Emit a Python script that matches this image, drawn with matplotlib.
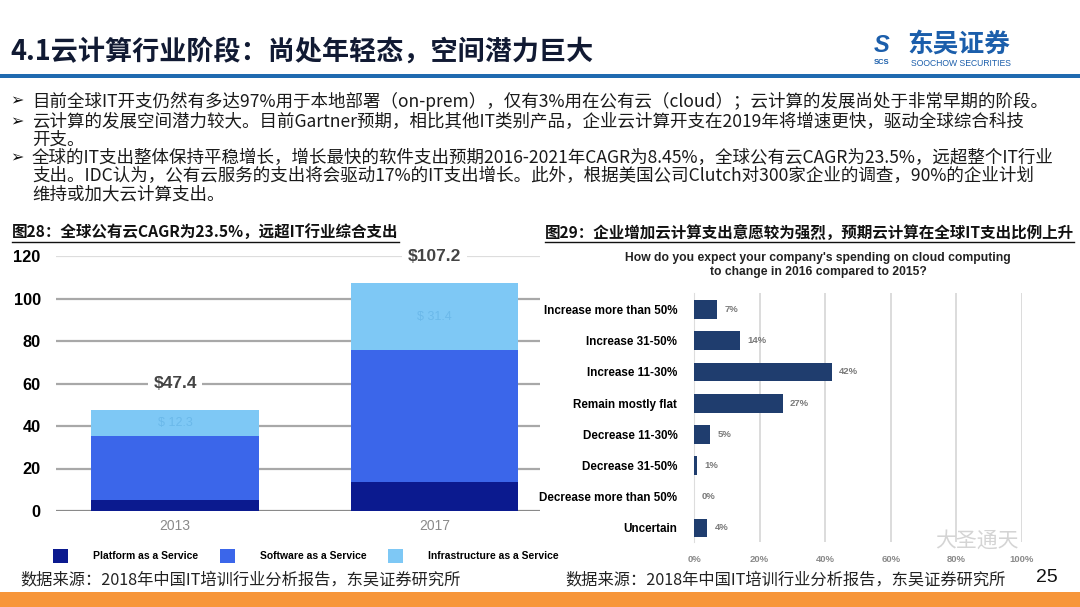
import matplotlib
matplotlib.use("Agg")
import matplotlib.pyplot as plt
from matplotlib.patches import Rectangle
from matplotlib.lines import Line2D

plt.rcParams['font.family'] = ['Noto Sans CJK SC', 'DejaVu Sans']

# ---- data ----
years = ["2013", "2017"]
paas = [5.3, 13.8]
saas = [29.8, 62.0]
iaas = [12.3, 31.4]
totals = ["$47.4", "$107.2"]
iaas_labels = ["$ 12.3", "$ 31.4"]

answers = ["Increase more than 50%", "Increase 31-50%", "Increase 11-30%",
           "Remain mostly flat", "Decrease 11-30%", "Decrease 31-50%",
           "Decrease more than 50%", "Uncertain"]
shares = [7, 14, 42, 27, 5, 1, 0, 4]

W, H = 1080, 607
fig = plt.figure(figsize=(10.8, 6.07), dpi=100)


def fx(x):
    return x / W


def fy(y):
    return 1 - y / H


EN = ['Liberation Sans', 'DejaVu Sans']
CJK = ['Noto Sans CJK SC', 'DejaVu Sans']

# ---- header ----
fig.text(fx(10), fy(52), "4.1云计算行业阶段：尚处年轻态，空间潜力巨大", fontsize=19.5,
         fontweight='bold', color='#111a33', va='center', family=CJK)
fig.add_artist(Rectangle((0, fy(78)), 1, 3.5 / H, transform=fig.transFigure,
                         color='#1f6ab0', lw=0))
fig.text(fx(874), fy(45), "S", fontsize=17, fontweight='bold', fontstyle='italic',
         color='#1b5eab', va='center', family=EN)
fig.text(fx(874), fy(62), "SCS", fontsize=5.5, fontweight='bold',
         color='#1b5eab', va='center', family=EN)
fig.text(fx(907), fy(44), "东吴证券", fontsize=18.5, fontweight='bold',
         color='#1b5eab', va='center', family=CJK)
fig.text(fx(911), fy(63), "SOOCHOW SECURITIES", fontsize=6.2,
         color='#1b5eab', va='center', family=EN)

# ---- bullets ----
bullets = [
    (101, True, "目前全球IT开支仍然有多达97%用于本地部署（on-prem），仅有3%用在公有云（cloud）；云计算的发展尚处于非常早期的阶段。"),
    (122, True, "云计算的发展空间潜力较大。目前Gartner预期，相比其他IT类别产品，企业云计算开支在2019年将增速更快，驱动全球综合科技"),
    (140, False, "开支。"),
    (158, True, "全球的IT支出整体保持平稳增长，增长最快的软件支出预期2016-2021年CAGR为8.45%，全球公有云CAGR为23.5%，远超整个IT行业"),
    (176, False, "支出。IDC认为，公有云服务的支出将会驱动17%的IT支出增长。此外，根据美国公司Clutch对300家企业的调查，90%的企业计划"),
    (194, False, "维持或加大云计算支出。"),
]
for y, mark, line in bullets:
    if mark:
        fig.text(fx(10), fy(y), "➢", fontsize=11.5, va='center', color='#111111',
                 family=['DejaVu Sans'])
    fig.text(fx(32), fy(y), line, fontsize=12.6, va='center', color='#1a1a1a', family=CJK)

# ---- captions (underlined) ----
captions = [(12, "图28：全球公有云CAGR为23.5%，远超IT行业综合支出"),
            (545, "图29：企业增加云计算支出意愿较为强烈，预期云计算在全球IT支出比例上升")]
cap_texts = []
for x, c in captions:
    t = fig.text(fx(x), fy(233), c, fontsize=11.2, fontweight='bold', va='center',
                 color='#111111', family=CJK)
    cap_texts.append(t)

# ---- left chart: stacked bars ----
ax1 = fig.add_axes([fx(56), fy(511), fx(540 - 56), (511 - 256) / H])
xpos = [0, 1]
c_paas, c_saas, c_iaas = '#0b1a8f', '#3b66ea', '#7ec8f5'
b1 = ax1.bar(xpos, paas, width=0.647, color=c_paas, label='Platform as a Service', zorder=3)
b2 = ax1.bar(xpos, saas, width=0.647, bottom=paas, color=c_saas,
             label='Software as a Service', zorder=3)
bottom3 = [p + s for p, s in zip(paas, saas)]
b3 = ax1.bar(xpos, iaas, width=0.647, bottom=bottom3, color=c_iaas,
             label='Infrastructure as a Service', zorder=3)
for i in xpos:
    ax1.text(i, bottom3[i] + iaas[i] / 2, iaas_labels[i], ha='center', va='center',
             fontsize=9, color='#6bb9ea', family=EN, zorder=4)
ax1.text(0, 60, totals[0], ha='center', va='center', fontsize=12.5, fontweight='bold',
         color='#444444', family=EN, zorder=4,
         bbox=dict(facecolor='white', edgecolor='none', pad=4))
ax1.text(1, 120, totals[1], ha='center', va='center', fontsize=12.5, fontweight='bold',
         color='#444444', family=EN, zorder=4,
         bbox=dict(facecolor='white', edgecolor='none', pad=4))
ax1.set_xlim(-0.4587, 1.4067)
ax1.set_ylim(0, 120)
ax1.set_yticks(range(0, 121, 20))
ax1.set_xticks(xpos, years)
ax1.yaxis.grid(True, color='#a8a8a8', lw=1.6, zorder=0)
grid = ax1.yaxis.get_gridlines()
grid[-1].set_color('#dddddd')
grid[0].set_color('#8a8a8a')
ax1.tick_params(axis='y', length=0, pad=11, labelsize=11.8)
ax1.tick_params(axis='x', length=0, pad=6, labelsize=10, labelcolor='#8a8a8a')
for lab in ax1.get_yticklabels():
    lab.set_fontweight('bold')
    lab.set_family(EN)
for lab in ax1.get_xticklabels():
    lab.set_family(EN)
for s in ax1.spines.values():
    s.set_visible(False)
ax1.set_facecolor('none')

fig.legend(handles=[b1, b2, b3], loc='center left', bbox_to_anchor=(fx(44), fy(556)),
           ncol=3, frameon=False, handlelength=1.4, handleheight=1.6,
           columnspacing=2.1, handletextpad=2.4, prop={'family': EN, 'weight': 'bold', 'size': 7.5})

# ---- right chart: horizontal bars ----
ax2 = fig.add_axes([fx(694), fy(542), fx(1022 - 694), (542 - 293) / H])
ypos = list(range(len(answers)))
ax2.barh(ypos, shares, height=0.6, color='#1f3d6e', zorder=3)
for y, v in zip(ypos, shares):
    ax2.text(v + 2.3, y, f"{v}%", va='center', ha='left', fontsize=6.8,
             fontweight='bold', color='#7a7a7a', family=EN)
ax2.set_xlim(0, 100)
ax2.set_ylim(7.45, -0.53)
ax2.set_yticks(ypos, answers)
ax2.set_xticks(range(0, 101, 20), [f"{v}%" for v in range(0, 101, 20)])
ax2.xaxis.grid(True, color='#d9d9d9', lw=1.3, zorder=0)
ax2.tick_params(axis='y', length=0, pad=12, labelsize=8.4)
ax2.tick_params(axis='x', length=0, pad=9, labelsize=6.8, labelcolor='#8a8a8a')
for lab in ax2.get_yticklabels():
    lab.set_fontweight('bold')
    lab.set_family(EN)
for lab in ax2.get_xticklabels():
    lab.set_fontweight('bold')
    lab.set_family(EN)
for k, s in ax2.spines.items():
    s.set_visible(k == 'left')
ax2.spines['left'].set_color('#dddddd')
fig.text(fx(818), fy(265), "How do you expect your company's spending on cloud computing\n"
         "to change in 2016 compared to 2015?", ha='center', va='center',
         fontsize=8.7, fontweight='bold', color='#222222', family=EN, linespacing=1.2)

# ---- sources, page number, watermark, footer band ----
src = "数据来源：2018年中国IT培训行业分析报告，东吴证券研究所"
fig.text(fx(20), fy(580), src, fontsize=11.7, va='center', color='#222222', family=CJK)
fig.text(fx(565), fy(580), src, fontsize=11.7, va='center', color='#222222', family=CJK)
fig.text(fx(1047), fy(577), "25", fontsize=14, va='center', ha='center', color='#111111',
         family=EN)
fig.text(fx(935), fy(541), "大圣通天", fontsize=15, va='center', color='#d0d0d0',
         alpha=0.9, family=CJK)
fig.add_artist(Rectangle((0, 0), 1, 15 / H, transform=fig.transFigure,
                         color='#f7963a', lw=0))

# underline captions
fig.canvas.draw()
r = fig.canvas.get_renderer()
for t in cap_texts:
    bb = t.get_window_extent(r).transformed(fig.transFigure.inverted())
    fig.add_artist(Line2D([bb.x0, bb.x1], [fy(242)] * 2, transform=fig.transFigure,
                          color='#111111', lw=1))

fig.savefig("out.png", dpi=100)
